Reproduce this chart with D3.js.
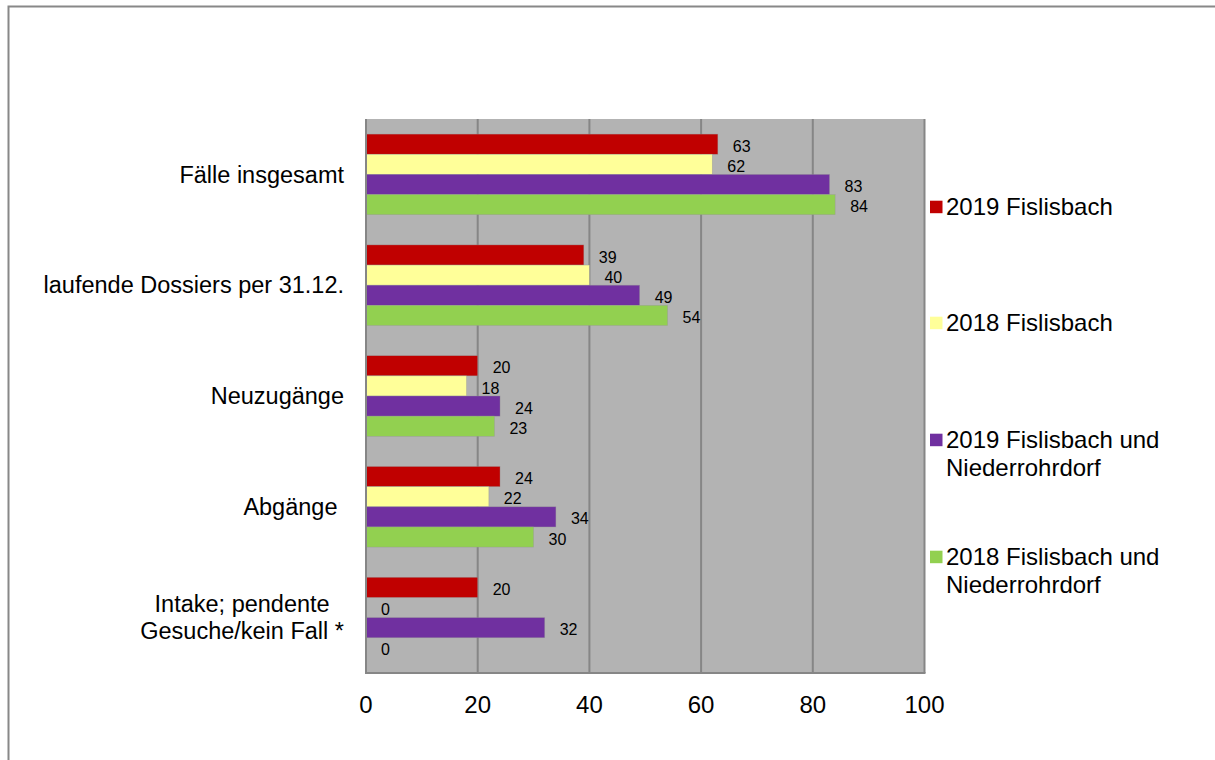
<!DOCTYPE html>
<html>
<head>
<meta charset="utf-8">
<script src="https://cdn.jsdelivr.net/npm/d3@7"></script>
<style>
  html, body { margin: 0; padding: 0; background: #fff; }
  svg text { font-family: "Liberation Sans", Arial, sans-serif; fill: #000; }
</style>
</head>
<body>
<svg id="chart" width="1215" height="760"></svg>
<script>
// Categories (top to bottom) and the four series shown per category
const categories = [
  "Fälle insgesamt",
  "laufende Dossiers per 31.12.",
  "Neuzugänge",
  "Abgänge ",
  "Intake; pendente\nGesuche/kein Fall *"
];
const seriesNames = [
  "2019 Fislisbach",
  "2018 Fislisbach",
  "2019 Fislisbach und\nNiederrohrdorf",
  "2018 Fislisbach und\nNiederrohrdorf"
];
const seriesColors = ["#c00000", "#ffff99", "#7030a0", "#92d050"];
const values2019F  = [63, 39, 20, 24, 20];
const values2018F  = [62, 40, 18, 22, 0];
const values2019FN = [83, 49, 24, 34, 32];
const values2018FN = [84, 54, 23, 30, 0];
const xTicks = [0, 20, 40, 60, 80, 100];

const seriesValues = [values2019F, values2018F, values2019FN, values2018FN];

const svg = d3.select("#chart");

// Outer chart frame
svg.append("rect")
  .attr("x", 8.5).attr("y", 6.5)
  .attr("width", 1400).attr("height", 1000)
  .attr("fill", "none").attr("stroke", "#888").attr("stroke-width", 2);

const plot = { left: 366, right: 924.5, top: 119, bottom: 673 };

const x = d3.scaleLinear().domain([0, 100]).range([plot.left, plot.right]);
const y = d3.scaleBand().domain(categories)
  .range([plot.top, plot.bottom])
  .paddingInner(0.2726).paddingOuter(0.1363);
const ySeries = d3.scaleBand().domain(d3.range(seriesNames.length))
  .range([0, y.bandwidth()]);

// Plot background
svg.append("rect")
  .attr("x", plot.left).attr("y", plot.top)
  .attr("width", plot.right - plot.left).attr("height", plot.bottom - plot.top)
  .attr("fill", "#b3b3b3");

// Vertical gridlines
svg.append("g").selectAll("line")
  .data(xTicks.slice(1))
  .join("line")
  .attr("x1", d => x(d)).attr("x2", d => x(d))
  .attr("y1", plot.top).attr("y2", plot.bottom)
  .attr("stroke", "#868686").attr("stroke-width", 2);

// Bars
const groups = svg.append("g").selectAll("g")
  .data(categories)
  .join("g")
  .attr("transform", c => `translate(0,${y(c)})`);

groups.each(function(c, ci) {
  const g = d3.select(this);
  seriesValues.forEach((vals, si) => {
    const v = vals[ci];
    if (v > 0) {
      g.append("rect")
        .attr("x", x(0))
        .attr("y", ySeries(si))
        .attr("width", x(v) - x(0))
        .attr("height", ySeries.bandwidth())
        .attr("fill", seriesColors[si])
        .attr("stroke", "rgba(150,150,150,0.6)")
        .attr("stroke-width", 0.6);
    }
    g.append("text")
      .attr("x", x(v) + 15)
      .attr("y", ySeries(si) + ySeries.bandwidth() / 2 + 2)
      .attr("dy", "0.35em")
      .attr("font-size", 16)
      .text(v);
  });
});

// Axis lines (left and bottom)
svg.append("line")
  .attr("x1", x(0)).attr("x2", x(0))
  .attr("y1", plot.top).attr("y2", plot.bottom)
  .attr("stroke", "#868686").attr("stroke-width", 2);
svg.append("line")
  .attr("x1", x(0) - 1).attr("x2", plot.right + 1)
  .attr("y1", plot.bottom).attr("y2", plot.bottom)
  .attr("stroke", "#868686").attr("stroke-width", 2);

// X tick labels
svg.append("g").selectAll("text")
  .data(xTicks)
  .join("text")
  .attr("x", d => x(d))
  .attr("y", 705)
  .attr("dy", "0.35em")
  .attr("text-anchor", "middle")
  .attr("font-size", 24)
  .text(d => d);

// Category labels, right-aligned block; multi-line labels centred within the block
const labelRight = 344;
const catG = svg.append("g");
categories.forEach(c => {
  const lines = c.split("\n");
  const cy = y(c) + y.bandwidth() / 2;
  const lh = 26.7;
  const t = catG.append("text")
    .attr("font-size", 23.5)
    .style("white-space", "pre");
  lines.forEach((ln, i) => {
    t.append("tspan")
      .attr("y", cy + (i - (lines.length - 1) / 2) * lh)
      .attr("dy", "0.35em")
      .text(ln);
  });
  if (lines.length === 1) {
    t.attr("text-anchor", "end").selectAll("tspan").attr("x", labelRight);
  } else {
    let maxW = 0;
    t.selectAll("tspan").each(function() {
      maxW = Math.max(maxW, this.getComputedTextLength());
    });
    t.attr("text-anchor", "middle").selectAll("tspan").attr("x", labelRight - maxW / 2);
  }
});

// Legend
const legendY = [207, 323, 440, 557];
const legend = svg.append("g");
seriesNames.forEach((name, i) => {
  const ly = legendY[i];
  legend.append("rect")
    .attr("x", 930).attr("y", ly - 6.3)
    .attr("width", 12.5).attr("height", 12.5)
    .attr("fill", seriesColors[i]);
  const t = legend.append("text").attr("font-size", 24);
  name.split("\n").forEach((ln, k) => {
    t.append("tspan")
      .attr("x", 946)
      .attr("y", ly + k * 28)
      .attr("dy", "0.35em")
      .text(ln);
  });
});
</script>
</body>
</html>
